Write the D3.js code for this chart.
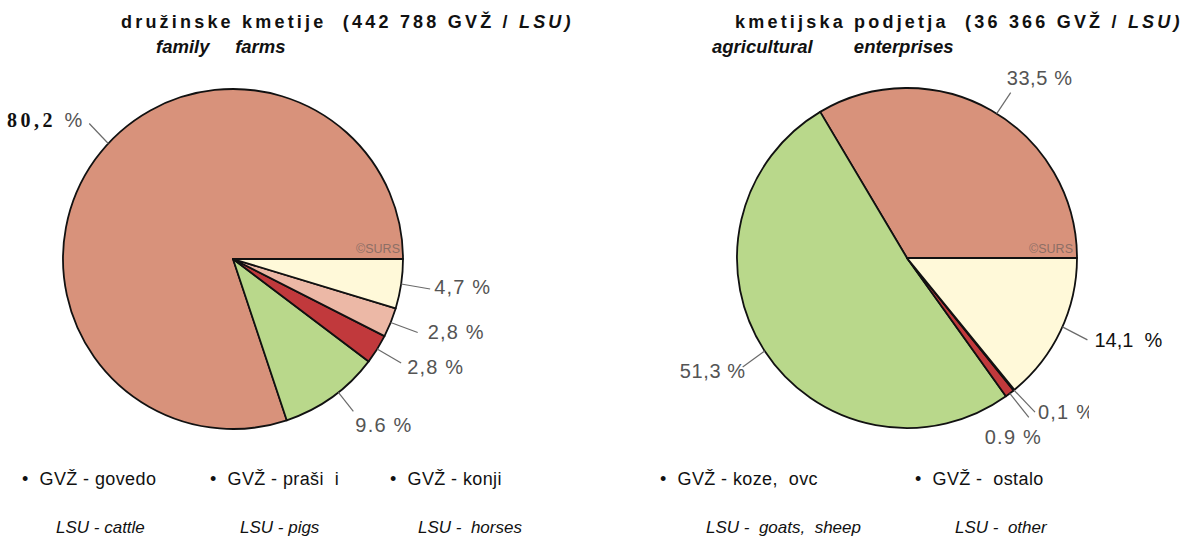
<!DOCTYPE html>
<html>
<head>
<meta charset="utf-8">
<script src="https://cdn.jsdelivr.net/npm/d3@7"></script>
<style>
  html, body { margin: 0; padding: 0; background: #fff; }
  svg text { white-space: pre; }
</style>
</head>
<body>
<svg id="chart" width="1188" height="537"></svg>
<script>
// Livestock units (GVŽ / LSU) by kind of livestock
const categories = ["cattle", "pigs", "horses", "goatsSheep", "other"];
const legendSl = ["GVŽ - govedo", "GVŽ - praši  i", "GVŽ - konji", "GVŽ - koze,  ovc", "GVŽ -  ostalo"];
const legendEn = ["LSU - cattle", "LSU - pigs", "LSU -  horses", "LSU -  goats,  sheep", "LSU -  other"];

const familyFarms = [80.2, 2.8, 2.8, 9.6, 4.7];
const familyLabels = ["80,2", "2,8 %", "2,8 %", "9.6 %", "4,7 %"];
const enterprises = [33.5, 0.1, 0.9, 51.3, 14.1];
const enterpriseLabels = ["33,5 %", "0,1 %", "0.9 %", "51,3 %", "14,1  %"];

// wedges are laid counter-clockwise from 3 o'clock in this order
const wedgeOrder = ["cattle", "goatsSheep", "horses", "pigs", "other"];

const colors = {
  cattle: "#d8927b",
  pigs: "#ecb8a6",
  horses: "#c1393c",
  goatsSheep: "#b9d88b",
  other: "#fff9d9"
};

const svg = d3.select("#chart");
const R = 170;
const font = "'Liberation Sans', Arial, Helvetica, sans-serif";

const pie = d3.pie()
  .sort(null)
  .value(d => d.value)
  .startAngle(Math.PI / 2)
  .endAngle(Math.PI / 2 - 2 * Math.PI);
const arc = d3.arc().innerRadius(0).outerRadius(R);

const deg = Math.PI / 180;

function drawPie(cfg) {
  const rows = wedgeOrder.map(key => {
    const i = categories.indexOf(key);
    return { key, value: cfg.values[i], label: cfg.labels[i] };
  });
  const arcs = pie(rows);
  const g = svg.append("g").attr("transform", `translate(${cfg.cx},${cfg.cy})`);

  g.selectAll("path.slice")
    .data(arcs)
    .join("path")
    .attr("class", "slice")
    .attr("d", arc)
    .attr("fill", d => colors[d.data.key])
    .attr("stroke", "#111")
    .attr("stroke-width", 1.8)
    .attr("stroke-linejoin", "round");

  // copyright mark on the cattle wedge
  g.append("text")
    .attr("x", cfg.mark[0]).attr("y", cfg.mark[1])
    .attr("text-anchor", "end")
    .attr("font-family", font)
    .attr("font-size", 12.5)
    .attr("fill", "#8d6f66")
    .text("©SURS");

  arcs.forEach(a => {
    const lay = cfg.layout[a.data.key];
    const ang = (a.startAngle + a.endAngle) / 2 + (lay.tweak || 0) * deg;
    const sx = Math.sin(ang) * R, sy = -Math.cos(ang) * R;
    const ex = sx + lay.line[0], ey = sy + lay.line[1];
    g.append("line")
      .attr("x1", sx).attr("y1", sy).attr("x2", ex).attr("y2", ey)
      .attr("stroke", "#6a6a6a").attr("stroke-width", 1.2);

    const t = g.append("text")
      .attr("x", ex + lay.text[0]).attr("y", ey + lay.text[1])
      .attr("text-anchor", lay.anchor || "start")
      .attr("font-family", font)
      .attr("font-size", 20)
      .attr("letter-spacing", lay.spacing != null ? lay.spacing : 1.2)
      .attr("fill", lay.color || "#545454");
    if (lay.clip) {
      const id = "clip-" + cfg.name + "-" + a.data.key;
      svg.append("clipPath").attr("id", id)
        .append("rect")
        .attr("x", lay.clip[0] - cfg.cx).attr("y", lay.clip[1] - cfg.cy)
        .attr("width", lay.clip[2]).attr("height", lay.clip[3]);
      t.attr("clip-path", `url(#${id})`);
    }
    if (lay.boldSerif) {
      t.append("tspan")
        .attr("font-family", "'Liberation Serif', 'Times New Roman', serif")
        .attr("font-weight", "bold")
        .attr("letter-spacing", 3.5)
        .attr("fill", "#111")
        .text(a.data.label + " ");
      t.append("tspan").attr("letter-spacing", 0).text("%");
    } else {
      t.text(a.data.label);
    }
  });
}

drawPie({
  name: "family",
  cx: 233, cy: 259,
  values: familyFarms,
  labels: familyLabels,
  mark: [167, -6],
  layout: {
    cattle:     { tweak: 7,    line: [-19, -20], text: [-7, 3], anchor: "end", boldSerif: true },
    goatsSheep: { tweak: -2.6, line: [15, 19],   text: [2, 21], clip: [300, 400, 200, 32] },
    horses:     { tweak: 0,    line: [24, 14],   text: [6, 11] },
    pigs:       { tweak: 0,    line: [27, 10],   text: [10, 6] },
    other:      { tweak: 0,    line: [29, 5],    text: [4, 5] }
  }
});

drawPie({
  name: "enterprise",
  cx: 907, cy: 258,
  values: enterprises,
  labels: enterpriseLabels,
  mark: [166, -5],
  layout: {
    cattle:     { tweak: 2.2,  line: [14, -21],  text: [-4, -8], spacing: 0.6 },
    goatsSheep: { tweak: 0,    line: [-22, 16],  text: [3, 11], anchor: "end", spacing: 0.6 },
    horses:     { tweak: 0,    line: [19, 24],   text: [-44, 27], clip: [960, 420, 120, 24] },
    pigs:       { tweak: 0,    line: [21, 22],   text: [3, 7], clip: [1020, 395, 69, 30] },
    other:      { tweak: -1.5, line: [25, 13],   text: [7, 7], color: "#111", spacing: 0 }
  }
});

// titles
function title(x, y, parts, size, spacing) {
  const t = svg.append("text")
    .attr("x", x).attr("y", y)
    .attr("font-family", font)
    .attr("font-size", size)
    .attr("font-weight", "bold")
    .attr("letter-spacing", spacing)
    .attr("fill", "#111");
  parts.forEach(p => t.append("tspan").attr("font-style", p.italic ? "italic" : "normal").text(p.text));
}
title(121, 28, [{ text: "družinske kmetije  (442 788 GVŽ / " }, { text: "LSU)", italic: true }], 18, 3.2);
title(156, 53, [{ text: "family     farms", italic: true }], 18.5, 0);
title(735, 28, [{ text: "kmetijska podjetja  (36 366 GVŽ / " }, { text: "LSU)", italic: true }], 18, 3.2);
title(712, 53, [{ text: "agricultural        enterprises", italic: true }], 18.5, 0);

// legend (text only)
const legendX = [22, 210, 390, 660, 915];
const legendX2 = [56, 240, 418, 706, 955];
const legend = svg.append("g")
  .attr("font-family", font)
  .attr("fill", "#111");
categories.forEach((c, i) => {
  legend.append("text")
    .attr("x", legendX[i]).attr("y", 485)
    .attr("font-size", 18)
    .attr("letter-spacing", 0.4)
    .text("•  " + legendSl[i]);
  legend.append("text")
    .attr("x", legendX2[i]).attr("y", 533)
    .attr("font-size", 17)
    .attr("font-style", "italic")
    .text(legendEn[i]);
});
</script>
</body>
</html>
